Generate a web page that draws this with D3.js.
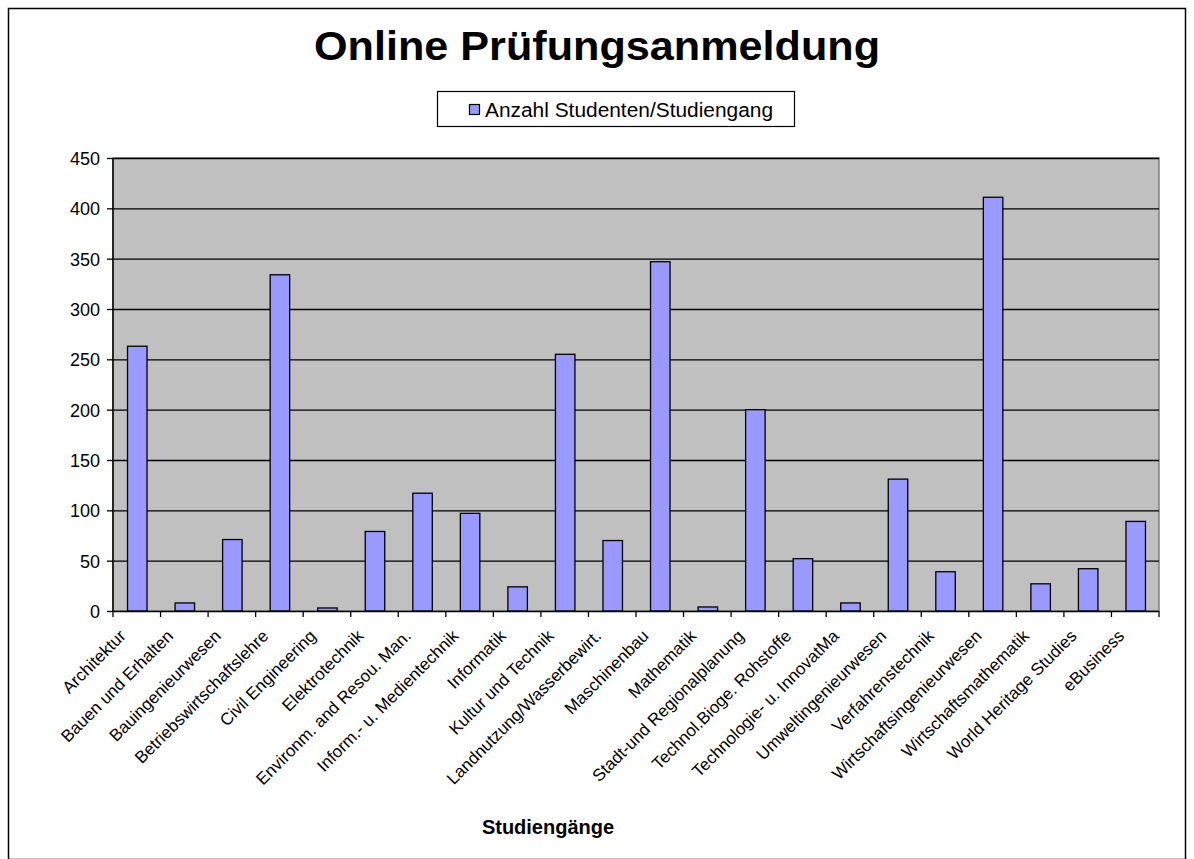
<!DOCTYPE html>
<html><head><meta charset="utf-8">
<script src="https://cdn.jsdelivr.net/npm/d3@7"></script>
<style>body{margin:0;background:#fff}svg{display:block;font-family:"Liberation Sans",Arial,sans-serif}</style>
</head><body>
<script>
const categories = ["Architektur","Bauen und Erhalten","Bauingenieurwesen","Betriebswirtschaftslehre","Civil Engineering","Elektrotechnik","Environm. and Resou. Man.","Inform.- u. Medientechnik","Informatik","Kultur und Technik","Landnutzung/Wasserbewirt.","Maschinenbau","Mathematik","Stadt-und Regionalplanung","Technol.Bioge. Rohstoffe","Technologie- u. InnovatMa","Umweltingenieurwesen","Verfahrenstechnik","Wirtschaftsingenieurwesen","Wirtschaftsmathematik","World Heritage Studies","eBusiness"];
const values = [263,8,71,334,3,79,117,97,24,255,70,347,4,200,52,8,131,39,411,27,42,89];
const yTicks = [0,50,100,150,200,250,300,350,400,450];
const title = "Online Prüfungsanmeldung";
const seriesName = "Anzahl Studenten/Studiengang";
const xTitle = "Studiengänge";

const W = 1194, H = 859;
const svg = d3.select("body").append("svg").attr("width", W).attr("height", H);
svg.append("rect").attr("x", 8.5).attr("y", 8.5).attr("width", W - 17).attr("height", H - 8).attr("fill", "#fff").attr("stroke", "#000").attr("stroke-width", 1.5);

const L = 113, R = 1159, T = 158, B = 611;
const x = d3.scaleBand().domain(categories).range([L, R]).paddingInner(0.59).paddingOuter(0.295);
const xb = d3.scaleBand().domain(categories).range([L, R]);
const y = d3.scaleLinear().domain([0, 450]).range([B, T]);

svg.append("rect").attr("x", L).attr("y", T).attr("width", R - L).attr("height", B - T).attr("fill", "#C0C0C0").attr("stroke", "#808080").attr("stroke-width", 1.5);

svg.append("g").selectAll("line").data(yTicks.filter(d => d > 0)).join("line")
  .attr("x1", L).attr("x2", R).attr("y1", d => y(d) + 0.5).attr("y2", d => y(d) + 0.5)
  .attr("stroke", "#000").attr("stroke-width", 1.3);

svg.append("g").selectAll("rect").data(values).join("rect")
  .attr("x", (d, i) => x(categories[i]) + 0.5)
  .attr("y", d => y(d))
  .attr("width", x.bandwidth())
  .attr("height", d => B - y(d))
  .attr("fill", "#9999FF").attr("stroke", "#000").attr("stroke-width", 1.3);

// y axis
const ya = svg.append("g").attr("transform", `translate(${L},0)`)
  .call(d3.axisLeft(y).tickValues(yTicks).tickSize(6).tickPadding(7));
ya.select(".domain").attr("stroke", "#000").attr("stroke-width", 1.5).attr("d", `M0,${T}V${B}`);
ya.selectAll(".tick line").attr("stroke", "#000").attr("stroke-width", 1.3);
ya.selectAll(".tick text").attr("font-size", 18).attr("fill", "#000").attr("dy", "0.36em").attr("font-family", "Liberation Sans, Arial, sans-serif");

// x axis
const xa = svg.append("g").attr("transform", `translate(0,${B})`);
xa.append("line").attr("x1", L).attr("x2", R).attr("y1", 0.5).attr("y2", 0.5).attr("stroke", "#000").attr("stroke-width", 1.5);
const bounds = categories.map(c => xb(c)).concat([R]);
xa.selectAll("line.tk").data(bounds).join("line").attr("class", "tk")
  .attr("x1", d => d).attr("x2", d => d).attr("y1", 0).attr("y2", 6).attr("stroke", "#000").attr("stroke-width", 1.3);
xa.selectAll("text").data(categories).join("text")
  .attr("transform", d => `translate(${xb(d) + xb.bandwidth() / 2 - 10},${26}) rotate(-45)`)
  .attr("text-anchor", "end").attr("font-size", 17).attr("fill", "#000")
  .text(d => d);

// title
svg.append("text").attr("x", 597).attr("y", 60).attr("text-anchor", "middle")
  .attr("font-size", 40).attr("font-weight", "bold")
  .attr("textLength", 566).attr("lengthAdjust", "spacingAndGlyphs").text(title);

// legend
svg.append("rect").attr("x", 437.5).attr("y", 91.5).attr("width", 357).attr("height", 35).attr("fill", "#fff").attr("stroke", "#000").attr("stroke-width", 1.2);
svg.append("rect").attr("x", 469.5).attr("y", 104.5).attr("width", 10).attr("height", 10).attr("fill", "#9999FF").attr("stroke", "#000").attr("stroke-width", 1.2);
svg.append("text").attr("x", 485).attr("y", 117).attr("font-size", 20)
  .attr("textLength", 288).attr("lengthAdjust", "spacingAndGlyphs").text(seriesName);

// x title
svg.append("text").attr("x", 548).attr("y", 834).attr("text-anchor", "middle")
  .attr("font-size", 20).attr("font-weight", "bold").text(xTitle);
</script>
</body></html>
